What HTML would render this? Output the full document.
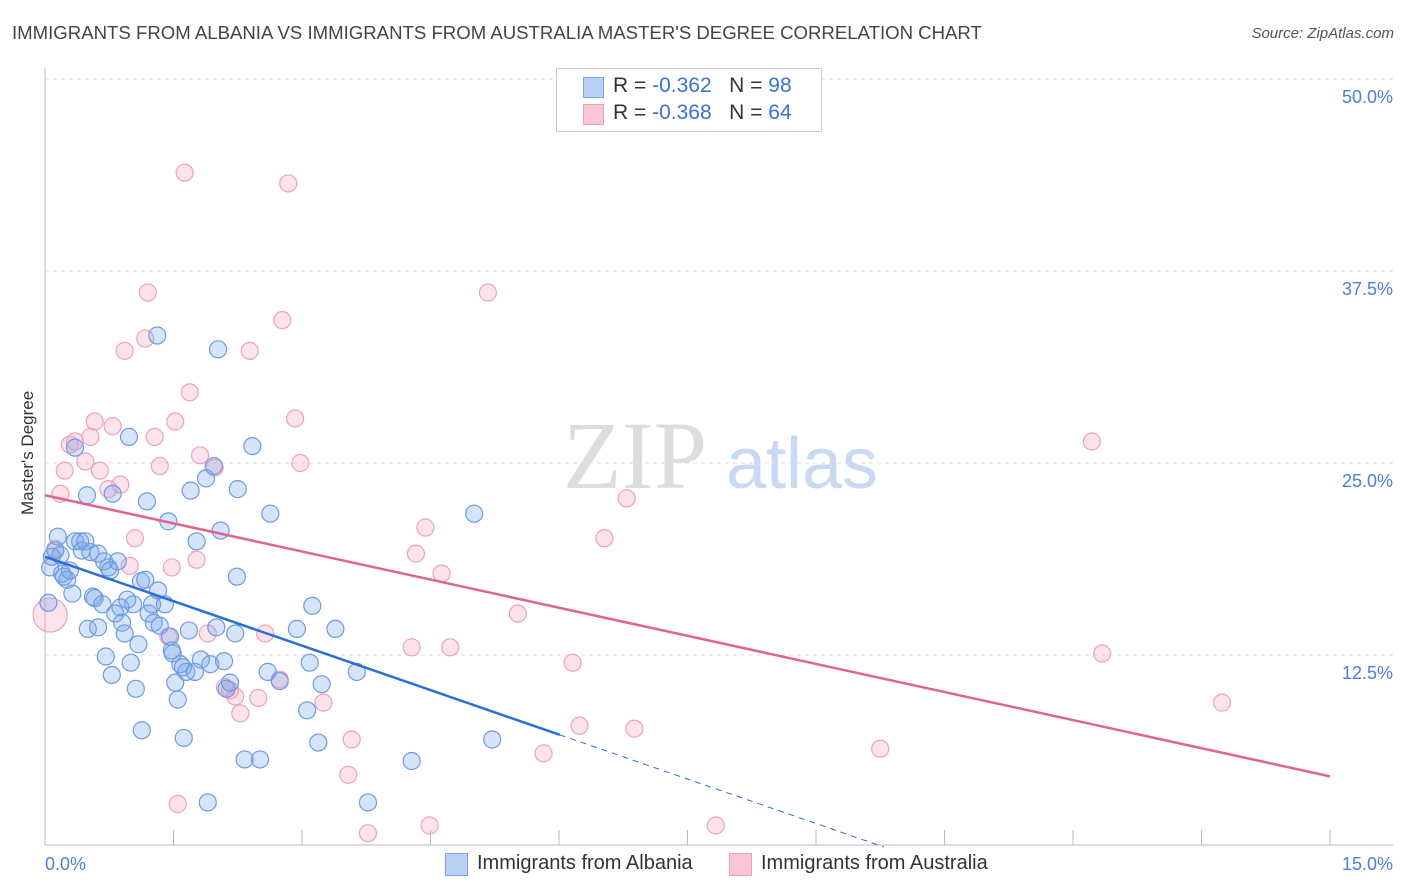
<!DOCTYPE html>
<html><head><meta charset="utf-8"><style>
body{margin:0;background:#fff;font-family:"Liberation Sans",sans-serif;}
#wrap{position:relative;width:1406px;height:892px;overflow:hidden;}
.t{position:absolute;white-space:nowrap;}
</style></head><body>
<div id="wrap">
<div class="t" style="left:12px;top:22px;font-size:18.6px;color:#444;">IMMIGRANTS FROM ALBANIA VS IMMIGRANTS FROM AUSTRALIA MASTER'S DEGREE CORRELATION CHART</div>
<div class="t" style="right:12px;top:25px;font-size:15px;color:#555;font-style:italic;">Source: ZipAtlas.com</div>
<div class="t" style="left:-32px;top:445px;font-size:17px;color:#333;transform:rotate(-90deg);width:120px;text-align:center;">Master's Degree</div>
<svg id="svg" width="1406" height="892" style="position:absolute;left:0;top:0"></svg>
<div style="position:absolute;left:556px;top:68px;width:264px;height:62px;border:1px solid #ccc;background:#fff;font-size:21px;">
 <div style="position:absolute;left:26px;top:8px;width:19px;height:19px;background:#b8d1f5;border:1px solid #7aa4e6"></div>
 <div class="t" style="left:56px;top:5px;color:#333">R = <span style="color:#3a72d4">-0.362</span>&nbsp;&nbsp;&nbsp;N = <span style="color:#3a72d4">98</span></div>
 <div style="position:absolute;left:26px;top:35px;width:19px;height:19px;background:#fac6d6;border:1px solid #eca0b8"></div>
 <div class="t" style="left:56px;top:32px;color:#333">R = <span style="color:#3a72d4">-0.368</span>&nbsp;&nbsp;&nbsp;N = <span style="color:#3a72d4">64</span></div>
</div>
<div style="position:absolute;left:445px;top:853px;width:21px;height:21px;background:#b8d1f5;border:1px solid #7aa4e6"></div>
<div class="t" style="left:477px;top:852px;font-size:20px;color:#333">Immigrants from Albania</div>
<div style="position:absolute;left:729px;top:853px;width:21px;height:21px;background:#fac6d6;border:1px solid #eca0b8"></div>
<div class="t" style="left:761px;top:852px;font-size:20px;color:#333">Immigrants from Australia</div>
</div>
<script>
const blueX=[.04,.06,.08,.12,.15,.18,.20,.22,.26,.29,.32,.35,.35,.41,.43,.47,.49,.50,.53,.56,.58,.62,.62,.67,.69,.71,.74,.76,.78,.79,.82,.85,.88,.90,.93,.96,.98,1.00,1.03,1.06,1.09,1.12,1.13,1.17,1.19,1.21,1.25,1.27,1.31,1.32,1.34,1.40,1.44,1.46,1.48,1.49,1.52,1.55,1.58,1.61,1.62,1.65,1.68,1.70,1.75,1.77,1.82,1.88,1.90,1.93,1.97,2.00,2.02,2.05,2.09,2.12,2.16,2.22,2.24,2.25,2.33,2.42,2.51,2.63,2.60,2.74,2.94,3.09,3.12,3.19,3.23,3.39,3.64,3.77,4.28,5.01,5.22,3.06];
const blueY=[15.9,18.2,18.9,19.3,20.2,19.0,17.8,17.6,17.4,18.0,16.5,26.0,19.9,19.9,19.3,19.9,22.9,14.2,19.2,16.3,16.2,14.3,19.1,15.8,18.6,12.4,18.2,18.0,11.2,23.0,15.2,18.6,15.6,14.6,13.9,16.1,26.7,12.0,15.8,10.3,13.2,17.3,7.6,17.4,22.5,15.2,15.8,14.6,33.3,16.7,14.4,15.8,21.2,13.7,12.8,12.6,10.7,9.6,11.9,11.7,7.1,11.4,14.1,23.2,11.4,19.9,12.2,24.0,2.9,11.9,24.8,14.3,32.4,20.6,12.1,10.3,10.7,13.9,17.6,23.3,5.7,26.1,5.7,21.7,11.4,10.8,14.2,12.0,15.7,6.8,10.6,14.2,11.4,2.9,5.6,21.7,7.0,8.9];
const pinkX=[.06,.12,.18,.23,.29,.35,.47,.53,.58,.64,.74,.79,.88,.93,.99,1.05,1.17,1.20,1.28,1.34,1.44,1.48,1.52,1.55,1.63,1.69,1.77,1.81,1.90,1.98,2.10,2.16,2.22,2.28,2.39,2.49,2.57,2.74,2.77,2.84,2.92,2.98,3.25,3.54,3.58,3.77,4.28,4.33,4.44,4.49,4.63,4.73,5.17,5.52,5.82,6.16,6.24,6.53,6.79,6.88,7.83,9.75,12.22,12.34,13.74];
const pinkY=[15.1,19.4,23.0,24.5,26.2,26.4,25.1,26.7,27.7,24.5,23.3,27.4,23.6,32.3,18.3,20.1,33.1,36.1,26.7,24.8,13.7,18.2,27.7,2.8,43.9,29.6,18.7,25.5,13.9,24.7,10.4,10.2,9.8,8.7,32.3,9.7,13.9,10.9,34.3,43.2,27.9,25.0,9.4,4.7,7.0,0.9,13.0,19.1,20.8,1.4,17.8,13.0,36.1,15.2,6.1,12.0,7.9,20.1,22.7,7.7,1.4,6.4,26.4,12.6,9.4];
const blueTrend=[18.9,-1.93];
const pinkTrend=[22.9,-1.22];
const yTicks=[12.5,25,37.5,50];
const xTicks=[0,1.5,3,4.5,6,7.5,9,10.5,12,13.5,15];
const sx=v=>45+v/15*1285, sy=v=>847-v/12.5*192;
const svg=document.getElementById('svg'),NS='http://www.w3.org/2000/svg';
function mk(tag,attrs){const e=document.createElementNS(NS,tag);for(const k in attrs)e.setAttribute(k,attrs[k]);svg.appendChild(e);return e;}
yTicks.forEach(v=>{const g=mk('line',{x1:45,x2:1393,y1:sy(v),y2:sy(v),stroke:'#ddd','stroke-dasharray':'4,4'});


const t=mk('text',{x:1393,y:sy(v)+24,'text-anchor':'end','font-size':18,fill:'#4a80d8','font-family':'Liberation Sans'});t.textContent=v.toFixed(1)+'%';

});
const ax=mk('line',{x1:45,x2:45,y1:68,y2:845,stroke:'#bbb'});


const bx=mk('line',{x1:45,x2:1393,y1:845,y2:845,stroke:'#bbb'});


xTicks.forEach(v=>{const l=mk('line',{x1:sx(v),x2:sx(v),y1:830,y2:845,stroke:'#bbb'});

});
[[0,'start','0.0%',45],[15,'end','15.0%',1393]].forEach(a=>{const t=mk('text',{x:a[3],y:870,'text-anchor':a[1],'font-size':18,fill:'#4a80d8','font-family':'Liberation Sans'});t.textContent=a[2];

});
const w1=mk('text',{x:635,y:488,'text-anchor':'middle','font-size':96,fill:'#ddd','font-family':'Liberation Serif'});w1.textContent='ZIP';


const w2=mk('text',{x:802,y:488,'text-anchor':'middle','font-size':72,fill:'#c8daf3','font-family':'Liberation Sans'});w2.textContent='atlas';


pinkX.forEach((x,i)=>{const c=mk('circle',{cx:sx(x),cy:sy(pinkY[i]),r:i===0?17:8.5,fill:'rgba(244,160,190,0.3)',stroke:'#eba3bb','stroke-width':1.2});

});
blueX.forEach((x,i)=>{const c=mk('circle',{cx:sx(x),cy:sy(blueY[i]),r:8.5,fill:'rgba(120,165,235,0.3)',stroke:'#6e9be0','stroke-width':1.2});

});
const bEnd=6.01,bZero=-blueTrend[0]/blueTrend[1];
const bl=mk('line',{x1:sx(0),y1:sy(blueTrend[0]),x2:sx(bEnd),y2:sy(blueTrend[0]+blueTrend[1]*bEnd),stroke:'#2b6fd6','stroke-width':2.5});


const bd=mk('line',{x1:sx(bEnd),y1:sy(blueTrend[0]+blueTrend[1]*bEnd),x2:sx(bZero),y2:sy(0),stroke:'#2b6fd6','stroke-width':1,'stroke-dasharray':'6,5'});


const pl=mk('line',{x1:sx(0),y1:sy(pinkTrend[0]),x2:sx(15),y2:sy(pinkTrend[0]+pinkTrend[1]*15),stroke:'#e0648f','stroke-width':2.5});


</script>
</body></html>
